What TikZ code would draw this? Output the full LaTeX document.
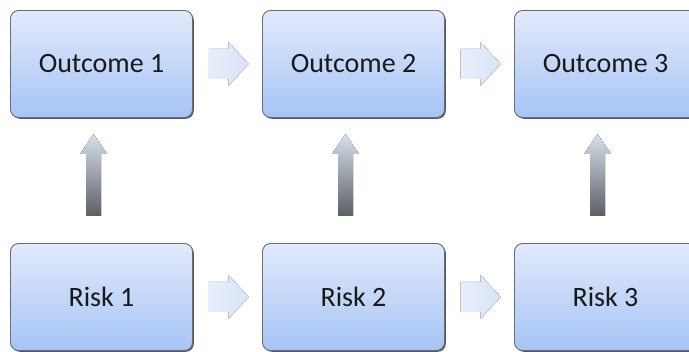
\documentclass[tikz,border=0pt]{standalone}
\usepackage{fontspec}
\setmainfont{Carlito}
\usetikzlibrary{calc,shadows}
\definecolor{boxtop}{HTML}{E2EAFB}
\definecolor{boxbot}{HTML}{A6C4F6}
\definecolor{boxline}{HTML}{6A6E75}
\definecolor{harrowl}{HTML}{E8EFFB}
\definecolor{harrowr}{HTML}{D8E3F7}
\definecolor{varrowtop}{HTML}{D8E1EC}
\definecolor{varrowbot}{HTML}{5B5F66}
\tikzset{
  stepbox/.style={rounded corners=8pt, draw=boxline, line width=0.9pt,
    top color=boxtop, bottom color=boxbot,
    minimum width=182pt, minimum height=107pt,
    font=\fontsize{28}{32}\selectfont, text=black!90,
    drop shadow={shadow xshift=1.3pt, shadow yshift=-1.3pt, fill=black!65, opacity=1}},
}
\begin{document}
\begin{tikzpicture}[x=1pt, y=-1pt, line join=round]
  \useasboundingbox (0,0) rectangle (689,352);
  % boxes
  \node[stepbox] (o1) at (101.5,64) {Outcome 1};
  \node[stepbox] (o2) at (353.5,64) {Outcome 2};
  \node[stepbox] (o3) at (605.5,64) {Outcome 3};
  \node[stepbox] (r1) at (101.5,297) {Risk 1};
  \node[stepbox] (r2) at (353.5,297) {Risk 2};
  \node[stepbox] (r3) at (605.5,297) {Risk 3};
  % block arrows between the boxes
  \foreach \a/\b in {o1/o2, o2/o3, r1/r2, r2/r3} {
    \coordinate (m) at ($(\a.east)!0.5!(\b.west)+(1,0)$);
    \fill[left color=harrowl, right color=harrowr, shift={(m)}]
      (-20,-15) -- (0,-15) -- (0,-22) -- (20,0) -- (0,22) -- (0,15) -- (-20,15) -- cycle;
    \draw[black!22, line width=0.6pt, shift={(m)}] (19,1) -- (1,21);
  }
  \foreach \i in {1,2,3} {
    \coordinate (t) at ($(o\i.south)+(-8,16)$);
    \fill[top color=varrowtop, bottom color=varrowbot, shift={(t)}]
      (0,0) -- (13.5,20) -- (7.5,20) -- (7.5,82) -- (-7.5,82) -- (-7.5,20) -- (-13.5,20) -- cycle;
  }
\end{tikzpicture}
\end{document}
